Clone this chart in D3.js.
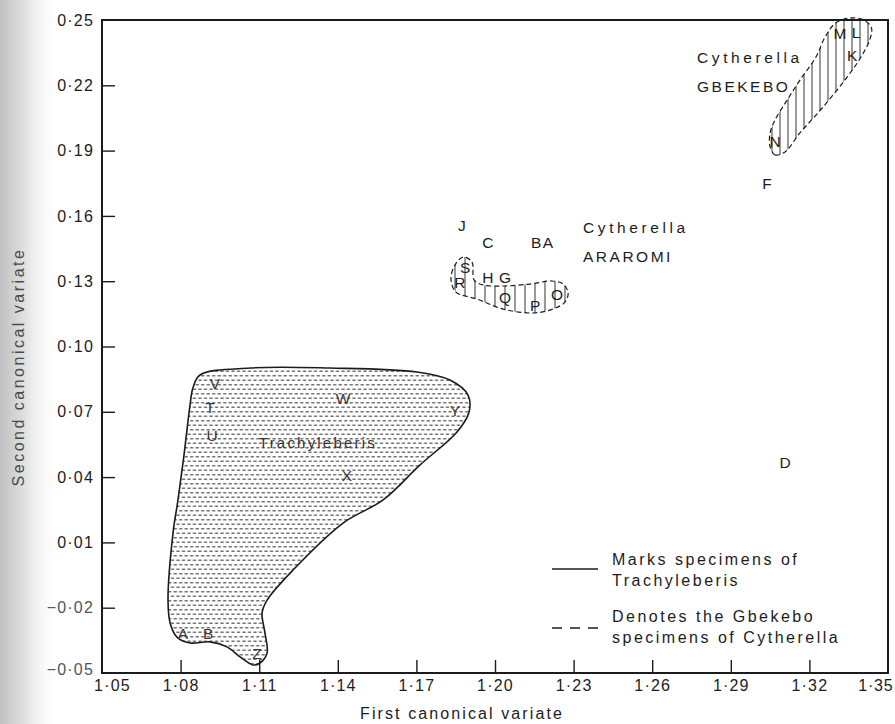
<!DOCTYPE html>
<html>
<head>
<meta charset="utf-8">
<script src="https://cdn.jsdelivr.net/npm/d3@7"></script>
<style>
  html, body { margin: 0; padding: 0; background: #fff; }
  svg { display: block; font-family: "Liberation Sans", Arial, sans-serif; }
</style>
</head>
<body>
<svg id="chart" width="895" height="724"></svg>
<script>
// ---- axis ticks and titles ----
const xTickValues = [1.05, 1.08, 1.11, 1.14, 1.17, 1.20, 1.23, 1.26, 1.29, 1.32, 1.35];
const yTickValues = [-0.05, -0.02, 0.01, 0.04, 0.07, 0.10, 0.13, 0.16, 0.19, 0.22, 0.25];
const xTitle = "First canonical variate";
const yTitle = "Second canonical variate";

// ---- specimens: [label, first canonical variate, second canonical variate] ----
const gbekeboSpecimens = [
  ["M", 1.3317, 0.2440], ["L", 1.3378, 0.2445], ["K", 1.3363, 0.2339], ["N", 1.3069, 0.1940]
];
const araromiSpecimens = [
  ["S", 1.1886, 0.1365], ["R", 1.1866, 0.1296], ["Q", 1.2038, 0.1227],
  ["P", 1.2153, 0.1191], ["O", 1.2237, 0.1237]
];
const trachySpecimens = [
  ["V", 1.0931, 0.0832], ["T", 1.0912, 0.0718], ["U", 1.0920, 0.0593],
  ["W", 1.1420, 0.0763], ["Y", 1.1847, 0.0708], ["X", 1.1435, 0.0410],
  ["A", 1.0809, -0.0316], ["B", 1.0905, -0.0316], ["Z", 1.1092, -0.0408]
];
const otherSpecimens = [
  ["F", 1.3038, 0.1751], ["D", 1.3107, 0.0469], ["J", 1.1874, 0.1558],
  ["C", 1.1973, 0.1480], ["B", 1.2157, 0.1480], ["A", 1.2202, 0.1480],
  ["H", 1.1973, 0.1319], ["G", 1.2038, 0.1319]
];

// ---- group envelopes (boundary points in data units) ----
const trachyOutline = [
  [1.0874, 0.0869], [1.1065, 0.0901], [1.1370, 0.0901], [1.1702, 0.0883], [1.1828, 0.0846],
  [1.1897, 0.0777], [1.1901, 0.0699], [1.1855, 0.0607], [1.1714, 0.0456], [1.1573, 0.0295],
  [1.1420, 0.0189], [1.1229, -0.0027], [1.1130, -0.0165], [1.1111, -0.0224], [1.1122, -0.0316],
  [1.1130, -0.0408], [1.1103, -0.0454], [1.1076, -0.0463], [1.1027, -0.0426], [1.0977, -0.0380],
  [1.0912, -0.0357], [1.0836, -0.0362], [1.0786, -0.0335], [1.0760, -0.0270], [1.0752, -0.0165],
  [1.0771, 0.0143], [1.0790, 0.0295], [1.0813, 0.0502], [1.0836, 0.0731], [1.0847, 0.0809]
];
const gbekeboOutline = [
  [1.3050, 0.1917], [1.3069, 0.1880], [1.3107, 0.1894], [1.3164, 0.1981], [1.3252, 0.2100],
  [1.3344, 0.2238], [1.3397, 0.2330], [1.3430, 0.2408], [1.3437, 0.2463], [1.3408, 0.2500],
  [1.3355, 0.2509], [1.3300, 0.2486], [1.3260, 0.2422], [1.3225, 0.2330], [1.3164, 0.2224],
  [1.3115, 0.2132], [1.3069, 0.2041], [1.3050, 0.1981]
];
const araromiOutline = [
  [1.1878, 0.1411], [1.1912, 0.1388], [1.1920, 0.1306], [1.1954, 0.1283], [1.2031, 0.1278],
  [1.2134, 0.1287], [1.2218, 0.1301], [1.2260, 0.1287], [1.2279, 0.1246], [1.2267, 0.1204],
  [1.2221, 0.1172], [1.2145, 0.1154], [1.2031, 0.1172], [1.1931, 0.1218], [1.1851, 0.1250],
  [1.1832, 0.1310], [1.1847, 0.1374]
];

// ---- group names written on the plot ----
const groupLabels = [
  { lines: ["Cytherella", "GBEKEBO"], x: 1.2771, y: 0.2302 },
  { lines: ["Cytherella", "ARAROMI"], x: 1.2336, y: 0.1521 }
];
const trachyLabel = { text: "Trachyleberis", x: 1.1324, y: 0.0557 };

const legendItems = [
  { lines: ["Marks specimens of", "Trachyleberis"], dashed: false },
  { lines: ["Denotes the Gbekebo", "specimens of Cytherella"], dashed: true }
];

// ---- drawing ----
const svg = d3.select("#chart");
const ink = "#1c1c1c";

const x = d3.scaleLinear().domain([1.05, 1.35]).range([102, 888]);
const y = d3.scaleLinear().domain([-0.05, 0.25]).range([673, 20]);

const defs = svg.append("defs");

// grey scanner shading along the left edge
const haze = defs.append("linearGradient").attr("id", "edgeHaze")
  .attr("x1", 0).attr("x2", 1).attr("y1", 0).attr("y2", 0);
haze.append("stop").attr("offset", "0%").attr("stop-color", "#c0c0c0");
haze.append("stop").attr("offset", "45%").attr("stop-color", "#e4e4e4");
haze.append("stop").attr("offset", "100%").attr("stop-color", "#ffffff").attr("stop-opacity", 0);
svg.append("rect").attr("x", 0).attr("y", 0).attr("width", 60).attr("height", 724)
  .attr("fill", "url(#edgeHaze)");

// stippled fill for Trachyleberis
const stipple = defs.append("pattern").attr("id", "stipple")
  .attr("patternUnits", "userSpaceOnUse").attr("width", 5.5).attr("height", 9);
stipple.append("path")
  .attr("d", "M0.4,2.2H3.6 M3.1,6.7H5.5 M0,6.7H0.8")
  .attr("stroke", "#727272").attr("stroke-width", 1.5).attr("fill", "none");

// vertical hatching for Cytherella groups
function hatch(id, step) {
  const p = defs.append("pattern").attr("id", id)
    .attr("patternUnits", "userSpaceOnUse").attr("width", step).attr("height", 10);
  p.append("line").attr("x1", step / 2).attr("x2", step / 2).attr("y1", 0).attr("y2", 10)
    .attr("stroke", "#333").attr("stroke-width", 1);
}
hatch("hatchG", 8);
hatch("hatchA", 10);

const outline = d3.line()
  .x(d => x(d[0])).y(d => y(d[1]))
  .curve(d3.curveCatmullRomClosed.alpha(0.5));

svg.append("path").datum(trachyOutline).attr("d", outline)
  .attr("fill", "url(#stipple)").attr("stroke", ink).attr("stroke-width", 1.6);

svg.append("path").datum(gbekeboOutline).attr("d", outline)
  .attr("fill", "url(#hatchG)").attr("stroke", ink).attr("stroke-width", 1.2)
  .attr("stroke-dasharray", "5,3");

svg.append("path").datum(araromiOutline).attr("d", outline)
  .attr("fill", "url(#hatchA)").attr("stroke", ink).attr("stroke-width", 1.2)
  .attr("stroke-dasharray", "5,3");

// frame
svg.append("rect")
  .attr("x", x(1.05)).attr("y", y(0.25))
  .attr("width", x(1.35) - x(1.05)).attr("height", y(-0.05) - y(0.25))
  .attr("fill", "none").attr("stroke", ink).attr("stroke-width", 2);

const fmt = v => d3.format(".2f")(v).replace(".", "·").replace("-", "−");

const xAxis = svg.append("g").attr("transform", `translate(0,${y(-0.05)})`)
  .call(d3.axisBottom(x).tickValues(xTickValues).tickFormat(fmt).tickSize(-13).tickPadding(7));
const yAxis = svg.append("g").attr("transform", `translate(${x(1.05)},0)`)
  .call(d3.axisLeft(y).tickValues(yTickValues).tickFormat(fmt).tickSize(-13).tickPadding(8));

[xAxis, yAxis].forEach(g => {
  g.select(".domain").remove();
  g.selectAll(".tick line").attr("stroke", ink).attr("stroke-width", 1.4);
  g.selectAll(".tick text").attr("fill", ink).attr("font-size", 16)
    .attr("letter-spacing", 1.2).attr("font-family", "Liberation Sans, Arial, sans-serif");
});
xAxis.selectAll(".tick").filter(d => d === 1.05 || d === 1.35).select("line").remove();
xAxis.selectAll(".tick").filter(d => d === 1.05).select("text").attr("dx", 10);
// last label sits flush against the right edge of the page
xAxis.selectAll(".tick").filter(d => d === 1.35).select("text")
  .attr("text-anchor", "end").attr("letter-spacing", 0.8).attr("dx", 5);
yAxis.selectAll(".tick").filter(d => d === 0.25 || d === -0.05).select("line").remove();
yAxis.selectAll(".tick").filter(d => d === -0.05).select("text").attr("dy", "0.1em").attr("fill", "#555");
yAxis.selectAll(".tick").filter(d => d === -0.02).select("text").attr("fill", "#555");

// axis titles
svg.append("text").attr("x", 462).attr("y", 719).attr("text-anchor", "middle")
  .attr("font-size", 16).attr("letter-spacing", 2.1).attr("fill", ink).text(xTitle);
svg.append("text").attr("transform", "translate(24,367) rotate(-90)")
  .attr("text-anchor", "middle").attr("font-size", 16).attr("letter-spacing", 2.5)
  .attr("fill", "#4a4a4a").text(yTitle);

// specimen letters
function letters(data, colour) {
  svg.append("g").selectAll("text").data(data).join("text")
    .attr("x", d => x(d[1])).attr("y", d => y(d[2]))
    .attr("dy", "0.36em").attr("text-anchor", "middle")
    .attr("font-size", 15.5).attr("fill", colour).text(d => d[0]);
}
letters(gbekeboSpecimens, ink);
letters(araromiSpecimens, ink);
letters(otherSpecimens, ink);
letters(trachySpecimens, "#3a3a3a");

// group names (lower-case words set wider than capitals)
groupLabels.forEach(g => {
  svg.append("g").selectAll("text").data(g.lines).join("text")
    .attr("x", x(g.x)).attr("y", (d, i) => y(g.y) + i * 29)
    .attr("font-size", 15.5)
    .attr("letter-spacing", d => d === d.toUpperCase() ? 2.5 : 3.6)
    .attr("fill", ink).text(d => d);
});
svg.append("text").attr("x", x(trachyLabel.x)).attr("y", y(trachyLabel.y)).attr("dy", "0.36em")
  .attr("text-anchor", "middle").attr("font-size", 15).attr("letter-spacing", 2.2)
  .attr("fill", "#333").text(trachyLabel.text);

// legend
const legend = svg.append("g").attr("transform", "translate(552,0)");
legendItems.forEach((item, i) => {
  const top = 565 + i * 57;
  legend.append("line").attr("x1", 0).attr("x2", 46)
    .attr("y1", top + 4 + i * 2).attr("y2", top + 4 + i * 2)
    .attr("stroke", ink).attr("stroke-width", 1.6)
    .attr("stroke-dasharray", item.dashed ? "10,8" : null);
  legend.selectAll(null).data(item.lines).join("text")
    .attr("x", 60).attr("y", (d, j) => top + j * 21)
    .attr("font-size", 16).attr("letter-spacing", 2.5).attr("fill", ink).text(d => d);
});
</script>
</body>
</html>
